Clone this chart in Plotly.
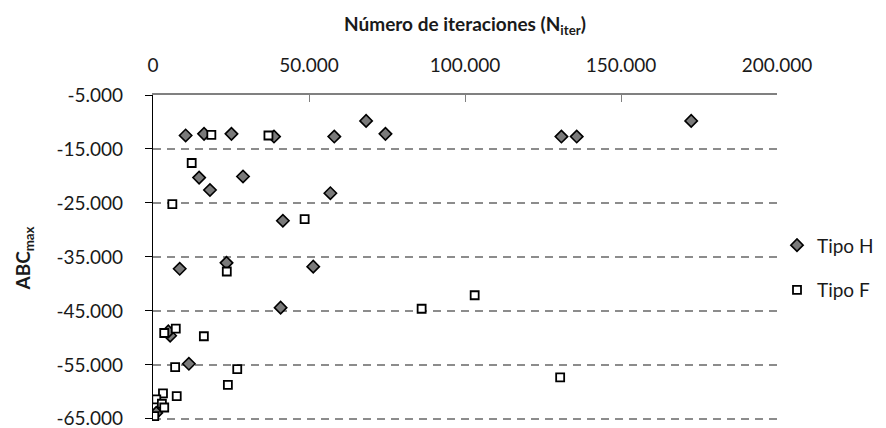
import plotly.graph_objects as go

# Tipo H (diamantes)
h_iter = [10460, 16360, 25140, 38780, 14780, 28850, 18260, 41630, 23560, 8560,
          51360, 40900, 5500, 4900, 11500, 58100, 68300, 74500, 130900, 135800,
          172500, 1050, 56850]
h_abc = [-12500, -12200, -12200, -12700, -20300, -20100, -22600, -28300, -36100, -37200,
         -36800, -44400, -49600, -48800, -54800, -12700, -9800, -12200, -12700, -12700,
         -9800, -63900, -23200]

# Tipo F (cuadrados)
f_iter = [18700, 37000, 12400, 6200, 48600, 23650, 103100, 86100, 3600, 7300,
          16300, 7100, 27000, 24000, 130500, 7600, 3200, 1050, 2850, 3600, 400]
f_abc = [-12400, -12500, -17600, -25200, -28000, -37700, -42100, -44600, -49100, -48300,
         -49700, -55400, -55800, -58700, -57300, -60800, -60300, -61400, -62200, -62900, -64500]

# y tick labels with a plain hyphen, like the original
y_ticks = [-5000, -15000, -25000, -35000, -45000, -55000, -65000]
y_labels = ['-5.000', '-15.000', '-25.000', '-35.000', '-45.000', '-55.000', '-65.000']

font = 'Lato, "Open Sans", sans-serif'

fig = go.Figure()
fig.add_trace(go.Scatter(
    x=h_iter, y=h_abc, mode='markers', name='Tipo H', legendgroup='h',
    marker=dict(symbol='diamond', size=9.5, color='#7a7a7a',
                line=dict(color='black', width=1.6))
))
fig.add_trace(go.Scatter(
    x=f_iter, y=f_abc, mode='markers', name='Tipo F', legendgroup='f',
    marker=dict(symbol='square', size=8, color='white',
                line=dict(color='black', width=1.8))
))

fig.update_layout(
    width=886, height=428,
    margin=dict(l=153, r=102, t=95, b=7),
    paper_bgcolor='white', plot_bgcolor='white',
    separators=',.',
    font=dict(family=font, size=19, color='#1a1a1a'),
    showlegend=True,
    legend=dict(x=1.0, y=0.47, xanchor='left', yanchor='middle',
                font=dict(size=19), tracegroupgap=17,
                traceorder='grouped', itemwidth=30),
)

fig.update_xaxes(
    side='top', range=[0, 200000], dtick=50000, tickformat=',d',
    automargin=False,
    showgrid=False, zeroline=False,
    showline=True, linecolor='#808080', linewidth=1.5,
    ticks='inside', ticklen=7, tickcolor='#808080',
    ticklabelstandoff=14,
    title=dict(text='<b>Número de iteraciones (N<sub>iter</sub>)</b>',
               font=dict(size=19), standoff=16),
)
fig.update_yaxes(
    range=[-65400, -5000], tickvals=y_ticks, ticktext=y_labels,
    automargin=False, ticklabeloverflow='allow',
    showgrid=True, gridcolor='#8c8c8c', gridwidth=2, griddash='8px,6px',
    zeroline=False,
    showline=True, linecolor='black', linewidth=1.2,
    ticks='outside', ticklen=7, tickcolor='black',
    ticklabelstandoff=18,
    title=dict(text='<b>ABC<sub>max</sub></b>', font=dict(size=19), standoff=20),
)

# the page body has a default 8px margin; drop it so the figure fills the window
fig.write_html('out.html', config={'displayModeBar': False},
               post_script="document.body.style.margin='0';")
